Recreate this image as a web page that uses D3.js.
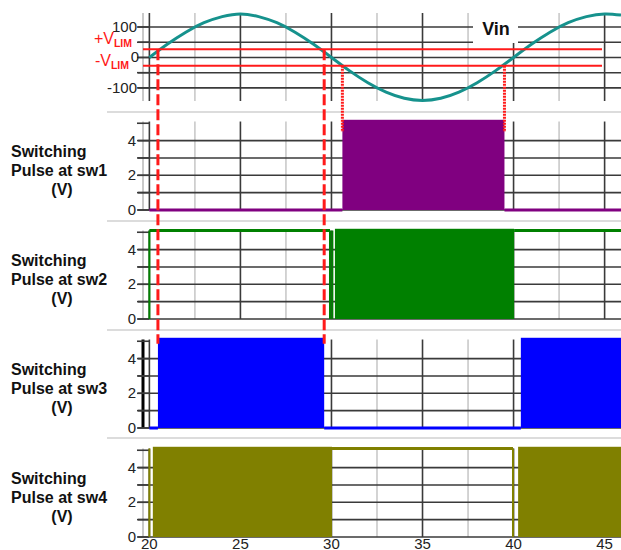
<!DOCTYPE html>
<html>
<head>
<meta charset="utf-8">
<script src="https://cdn.jsdelivr.net/npm/d3@7"></script>
<style>
  body { margin: 0; background: #fff; }
  text { font-family: "Liberation Sans", Arial, sans-serif; }
</style>
</head>
<body>
<svg id="chart"></svg>
<script>
const svgWidth = 621,
    svgHeight = 550;

// time axis (ms)
const timeTicks = [20, 22.5, 25, 27.5, 30, 32.5, 35, 37.5, 40, 42.5, 45];
const timeLabels = [20, 25, 30, 35, 40, 45];

// input voltage, one sample per ms
const vinTime = [20, 21, 22, 23, 24, 25, 26, 27, 28, 29, 30, 31, 32, 33, 34, 35,
    36, 37, 38, 39, 40, 41, 42, 43, 44, 45, 45.9];
const vinValues = [0, 44, 83, 114, 134, 143, 134, 114, 83, 44, 0, -44, -83, -114, -134, -141,
    -134, -114, -83, -44, 0, 44, 83, 114, 134, 143, 139];
const vinTicks = [100, 0, -100];
const vinGrid = [100, 50, 0, -50, -100];
const vLim = 27;

// where Vin crosses the limits
const dashedTimes = [20.47, 29.6];
const dottedTimes = [30.6, 39.5];

const pulseTicks = [0, 2, 4];
const pulseGrid = [0, 1, 2, 3, 4];
const pulseMinor = [0, 1, 2, 3, 4, 5];
const pulseHigh = 5.1;
const pwmPeak = 5.2;

const switchNames = ["sw1", "sw2", "sw3", "sw4"];
const switchColors = ["#800080", "#008000", "#0000ff", "#808000"];

// [state, from, to]  state: low / high / pwm / edge
const sw1Segments = [["low", 20, 30.6], ["pwm", 30.6, 39.5], ["low", 39.5, 45.9]];
const sw2Segments = [["edge", 20], ["high", 20, 29.92], ["edge", 29.92], ["edge", 30.05],
    ["pwm", 30.19, 40.03], ["high", 40.03, 45.9]];
const sw3Segments = [["low", 20, 20.47], ["pwm", 20.47, 29.6], ["low", 29.6, 40.4], ["pwm", 40.4, 45.9]];
const sw4Segments = [["edge", 20], ["pwm", 20.19, 30.03], ["high", 30.03, 39.97], ["edge", 39.97],
    ["pwm", 40.25, 45.9]];
const allSegments = [sw1Segments, sw2Segments, sw3Segments, sw4Segments];

const panelZero = [210, 319, 428, 537];
const panelUnit = 17.35;
const separators = [112, 221, 330, 438];

const dark = "#3a3a3a", light = "#c9c9c9", red = "#ff1a1a";

const chart = d3.select("#chart")
    .attr("width", svgWidth)
    .attr("height", svgHeight);

var xScale = d3.scaleLinear().domain([19.65, 45.9]).range([143, 621]);
var vinScale = d3.scaleLinear().domain([-143, 146]).range([101, 13]);

var pulseScales = panelZero.map(function(y0){
    return d3.scaleLinear().domain([0, pulseHigh]).range([y0, y0 - pulseHigh * panelUnit]);
});

// panel separators
chart.append("g").selectAll("line")
    .data(separators).enter().append("line")
    .attr("x1", 107).attr("x2", svgWidth)
    .attr("y1", d => d).attr("y2", d => d)
    .style("stroke", "#dcdcdc").style("stroke-width", 2);

function drawGrid(g, yScale, hLines, ticks, y0, y1, axisColor, axisWidth){
    g.append("line")
        .attr("x1", 143).attr("x2", 143).attr("y1", y0).attr("y2", y1)
        .style("stroke", axisColor).style("stroke-width", axisWidth);

    g.append("g").selectAll("line")
        .data(timeTicks).enter().append("line")
        .attr("x1", d => xScale(d)).attr("x2", d => xScale(d))
        .attr("y1", y0).attr("y2", y1)
        .style("stroke", d => d % 5 == 0 ? dark : light)
        .style("stroke-width", 1.6);

    g.append("g").selectAll("line")
        .data(hLines).enter().append("line")
        .attr("x1", 138).attr("x2", svgWidth)
        .attr("y1", d => yScale(d)).attr("y2", d => yScale(d))
        .style("stroke", dark).style("stroke-width", 1.6);

    g.append("g").selectAll("line")
        .data(ticks).enter().append("line")
        .attr("x1", 137).attr("x2", 149)
        .attr("y1", d => yScale(d)).attr("y2", d => yScale(d))
        .style("stroke", dark).style("stroke-width", 1.6);
}

// ---- top panel: Vin
var vinPanel = chart.append("g");
drawGrid(vinPanel, vinScale, vinGrid, vinGrid, 13, 101, light, 2);

vinPanel.append("g").selectAll("text")
    .data(vinTicks).enter().append("text")
    .attr("x", d => d == 0 ? 139 : 137).attr("y", d => vinScale(d) + 5)
    .attr("text-anchor", "end")
    .style("font-size", "15px").style("fill", "#222")
    .text(d => d);

var vinLine = d3.line()
    .x((d, i) => xScale(vinTime[i]))
    .y(d => vinScale(d))
    .curve(d3.curveNatural);

vinPanel.append("path")
    .datum(vinValues)
    .attr("d", vinLine)
    .style("fill", "none")
    .style("stroke", "#16928d")
    .style("stroke-width", 3);

// Vin legend box
vinPanel.append("rect")
    .attr("x", 473).attr("y", 13).attr("width", 45).attr("height", 30)
    .style("fill", "#fff");
vinPanel.append("text")
    .attr("x", 496).attr("y", 35)
    .attr("text-anchor", "middle")
    .style("font-size", "18px").style("font-weight", "bold").style("fill", "#111")
    .text("Vin");

// limit lines
vinPanel.append("g").selectAll("line")
    .data([vLim, -vLim]).enter().append("line")
    .attr("x1", 143).attr("x2", 602)
    .attr("y1", d => vinScale(d)).attr("y2", d => vinScale(d))
    .style("stroke", red).style("stroke-width", 2);

var limLabels = vinPanel.append("g").style("fill", red);
[["+V", 44, 132], ["-V", 66, 129]].forEach(function(l){
    var t = limLabels.append("text")
        .attr("x", l[2]).attr("y", l[1])
        .attr("text-anchor", "end")
        .style("font-size", "16px");
    t.append("tspan").text(l[0]);
    t.append("tspan").attr("dy", 3).style("font-size", "10.5px").style("font-weight", "bold").text("LIM");
});

// ---- switching pulse panels
switchNames.forEach(function(name, i){
    var y = pulseScales[i];
    var g = chart.append("g");
    var color = switchColors[i];

    drawGrid(g, y, pulseGrid, pulseMinor, y(pulseHigh), y(0), i == 2 ? "#000" : light, i == 2 ? 3 : 2);

    g.append("g").selectAll("text")
        .data(pulseTicks).enter().append("text")
        .attr("x", 136).attr("y", d => y(d) + 5)
        .attr("text-anchor", "end")
        .style("font-size", "15px").style("fill", "#222")
        .text(d => d);

    var lbl = g.append("g")
        .style("font-size", "16px").style("font-weight", "bold").style("fill", "#111");
    ["Switching", "Pulse at " + name, "(V)"].forEach(function(s, k){
        lbl.append("text")
            .attr("x", k == 2 ? 62 : 11)
            .attr("y", y(0) - 53 + k * 19)
            .attr("text-anchor", k == 2 ? "middle" : "start")
            .text(s);
    });

    var segs = allSegments[i];

    g.append("g").selectAll("rect")
        .data(segs.filter(s => s[0] == "pwm")).enter().append("rect")
        .attr("x", s => xScale(s[1]))
        .attr("width", s => xScale(s[2]) - xScale(s[1]))
        .attr("y", y(pwmPeak))
        .attr("height", y(0) - y(pwmPeak))
        .style("fill", color);

    g.append("g").selectAll("line")
        .data(segs.filter(s => s[0] == "low" || s[0] == "high")).enter().append("line")
        .attr("x1", s => xScale(s[1])).attr("x2", s => xScale(s[2]))
        .attr("y1", s => y(s[0] == "high" ? pulseHigh : 0))
        .attr("y2", s => y(s[0] == "high" ? pulseHigh : 0))
        .style("stroke", color).style("stroke-width", 3);

    g.append("g").selectAll("line")
        .data(segs.filter(s => s[0] == "edge")).enter().append("line")
        .attr("x1", s => xScale(s[1])).attr("x2", s => xScale(s[1]))
        .attr("y1", y(0)).attr("y2", y(pulseHigh))
        .style("stroke", color).style("stroke-width", 2);
});

// x axis labels
chart.append("g").selectAll("text")
    .data(timeLabels).enter().append("text")
    .attr("x", d => xScale(d)).attr("y", 549)
    .attr("text-anchor", "middle")
    .style("font-size", "15px").style("fill", "#222")
    .text(d => d);

// crossing markers
chart.append("g").selectAll("line")
    .data(dashedTimes).enter().append("line")
    .attr("x1", d => xScale(d)).attr("x2", d => xScale(d))
    .attr("y1", vinScale(vLim)).attr("y2", pulseScales[2](4.85))
    .style("stroke", red).style("stroke-width", 3)
    .style("stroke-dasharray", "11,4");

chart.append("g").selectAll("line")
    .data(dottedTimes).enter().append("line")
    .attr("x1", d => xScale(d)).attr("x2", d => xScale(d))
    .attr("y1", vinScale(-vLim)).attr("y2", pulseScales[0](4.5))
    .style("stroke", red).style("stroke-width", 3)
    .style("stroke-dasharray", "2,1");
</script>
</body>
</html>
